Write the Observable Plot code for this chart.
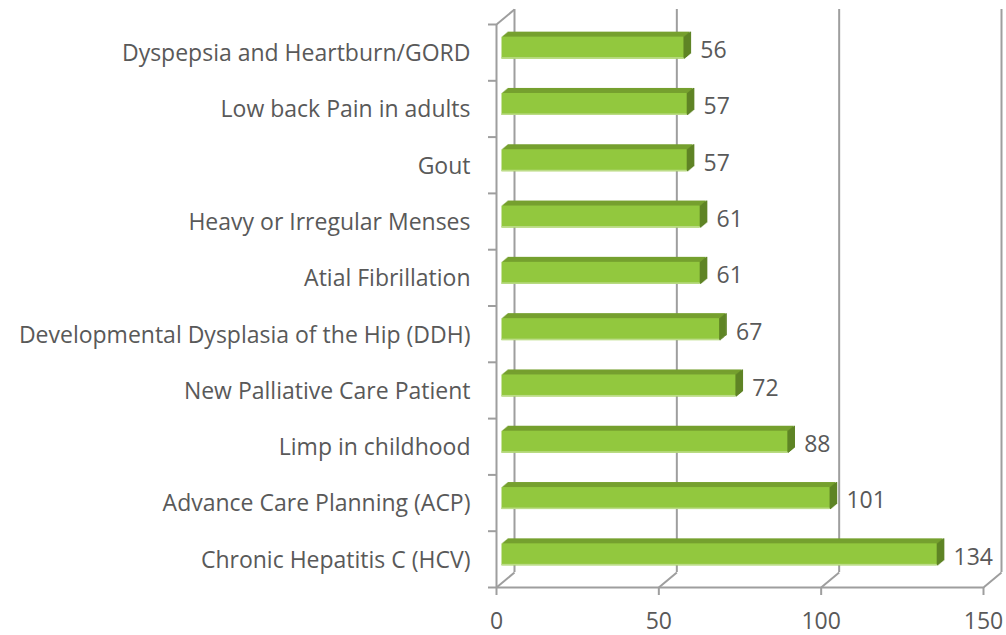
<!DOCTYPE html>
<html>
<head>
<meta charset="utf-8">
<script src="https://cdn.jsdelivr.net/npm/d3@7"></script>
<script src="https://cdn.jsdelivr.net/npm/@observablehq/plot@0.6"></script>
<style>
  html, body { margin: 0; padding: 0; background: #fff; }
  #chart { width: 1006px; height: 635px; }
</style>
</head>
<body>
<div id="chart"></div>
<script>
const categories = [
  "Dyspepsia and Heartburn/GORD",
  "Low back Pain in adults",
  "Gout",
  "Heavy or Irregular Menses",
  "Atial Fibrillation",
  "Developmental Dysplasia of the Hip (DDH)",
  "New Palliative Care Patient",
  "Limp in childhood",
  "Advance Care Planning (ACP)",
  "Chronic Hepatitis C (HCV)"
];
const values = [56, 57, 57, 61, 61, 67, 72, 88, 101, 134];
const xTicks = [0, 50, 100, 150];

const data = categories.map((c, i) => ({category: c, value: values[i], i}));

const W = 1006, H = 635;
const mL = 496, mR = 23, mT = 24, mB = 48;
const xMax = 150, n = categories.length;
const pxX = (W - mL - mR) / xMax;      // pixels per x unit
const pxY = (H - mT - mB) / n;         // pixels per band
// depth of the 3D box, in pixels
const DX = 18, DY = -15;
const dxU = DX / pxX, dyU = DY / pxY;  // same depth in data units
const barH = 22;
const inset = (pxY - barH) / 2;
// bar placed part-way into depth
const fx = 5.5, fy = -4.5;
const bx = 6, by = -5;

const grid = "#9e9e9e";
const txt = "#595959";
const cFront = "#92c83e", cTop = "#76a02f", cSide = "#5f8426";

const marks = [];
// back wall gridlines
marks.push(Plot.ruleX(xTicks, {x: d => d, dx: DX, dy: DY, stroke: grid, strokeWidth: 2}));
// floor diagonals
marks.push(Plot.link(xTicks, {x1: d => d, y1: () => n, x2: d => d + dxU, y2: () => n + dyU, stroke: grid, strokeWidth: 2}));
// front baseline
marks.push(Plot.ruleY([n], {stroke: grid, strokeWidth: 2}));
// left wall front edge
marks.push(Plot.ruleX([0], {stroke: grid, strokeWidth: 2}));
// left wall top diagonal
marks.push(Plot.link([0], {x1: () => 0, y1: () => 0, x2: () => dxU, y2: () => dyU, stroke: grid, strokeWidth: 2}));
// left category boundary ticks
marks.push(Plot.ruleY(d3.range(n + 1), {y: d => d, x1: () => 0, x2: () => 0, insetLeft: -8, stroke: grid, strokeWidth: 2}));
// bottom x ticks
marks.push(Plot.ruleX(xTicks, {x: d => d, y1: () => n, y2: () => n, insetBottom: -8, stroke: grid, strokeWidth: 2}));

// bar extrusion (top face colour)
const steps = 6;
for (let j = steps; j >= 1; j--) {
  marks.push(Plot.rect(data, {
    x1: () => 0, x2: "value", y1: "i", y2: d => d.i + 1,
    insetTop: inset, insetBottom: inset,
    fill: cTop, dx: fx + bx * j / steps, dy: fy + by * j / steps
  }));
}
// side face
for (let j = 0; j <= steps; j++) {
  marks.push(Plot.ruleX(data, {
    x: "value", y1: "i", y2: d => d.i + 1,
    insetTop: inset, insetBottom: inset,
    stroke: cSide, strokeWidth: 1.6, dx: fx + bx * j / steps + 0.5, dy: fy + by * j / steps
  }));
}
// front face
marks.push(Plot.rect(data, {
  x1: () => 0, x2: "value", y1: "i", y2: d => d.i + 1,
  insetTop: inset, insetBottom: inset,
  fill: cFront, dx: fx, dy: fy
}));
// bottom highlight of front face
marks.push(Plot.rect(data, {
  x1: () => 0, x2: "value", y1: "i", y2: d => d.i + 1,
  insetTop: inset + barH - 1.5, insetBottom: inset,
  fill: "#bcdc88", dx: fx, dy: fy
}));

// value labels
marks.push(Plot.text(data, {
  x: "value", y: d => d.i + 0.5, text: d => String(d.value),
  textAnchor: "start", dx: 22, dy: -2, fill: txt, fontSize: 23
}));
// category labels
marks.push(Plot.text(data, {
  x: () => 0, y: d => d.i + 0.5, text: "category",
  textAnchor: "end", dx: -26, dy: 1, fill: txt, fontSize: 23
}));
// x tick labels
marks.push(Plot.text(xTicks, {
  x: d => d, y: () => n, text: d => String(d),
  dy: 34, fill: txt, fontSize: 23
}));

const chart = Plot.plot({
  width: W, height: H,
  marginLeft: mL, marginRight: mR, marginTop: mT, marginBottom: mB,
  style: {fontFamily: "'Open Sans', sans-serif", background: "#fff", overflow: "visible"},
  x: {domain: [0, xMax], axis: null},
  y: {domain: [0, n], reverse: true, axis: null},
  marks
});
document.getElementById("chart").appendChild(chart);
</script>
</body>
</html>
